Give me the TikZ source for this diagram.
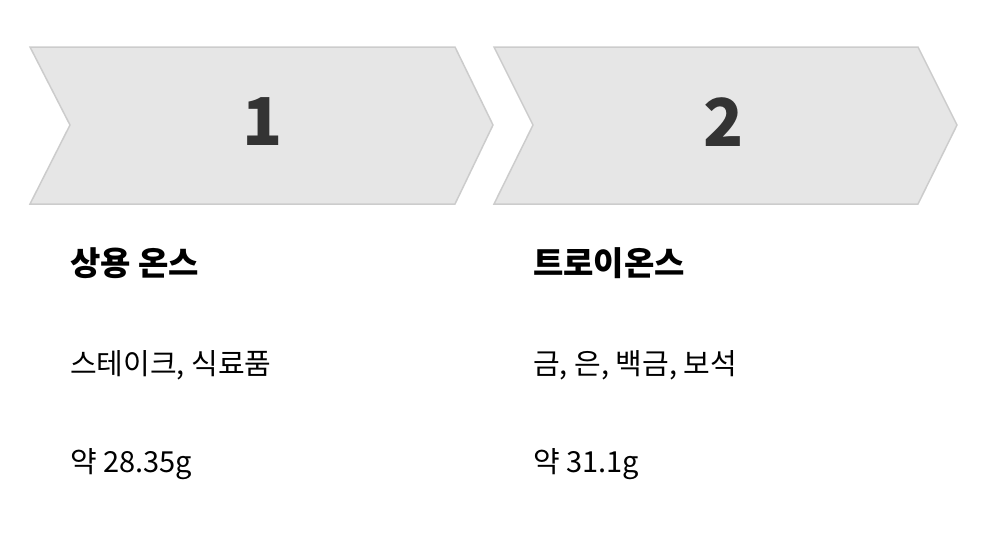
\documentclass[tikz,border=0pt]{standalone}
\usepackage{fontspec}
\setmainfont{Noto Sans CJK KR}
\begin{document}
\begin{tikzpicture}[x=1pt,y=-1pt]
\definecolor{cfill}{HTML}{E6E6E6}
\definecolor{cline}{HTML}{CCCCCC}
\definecolor{ctext}{HTML}{333333}
\tikzset{chev/.style={fill=cfill,draw=cline,line width=1.5pt,line join=miter},
 num/.style={font=\fontsize{66}{66}\selectfont\bfseries,text=ctext},
 title/.style={anchor=west,font=\fontsize{33}{33}\selectfont\bfseries,text=black,inner sep=0pt},
 body/.style={anchor=west,font=\fontsize{29}{29}\selectfont,text=black,inner sep=0pt}}
\useasboundingbox (0,0) rectangle (982,544);
\draw[chev] (30,47) -- (455,47) -- (493,125) -- (455,204) -- (30,204) -- (70,125) -- cycle;
\draw[chev] (494,47) -- (918,47) -- (957,125) -- (918,204) -- (494,204) -- (533,125) -- cycle;
\node[num] (n1) at (263,122) {1};
\node[num] (n2) at (724,122) {2};
\node[title] (t1) at (70,263) {상용 온스};
\node[title] (t2) at (533,263) {트로이온스};
\node[body] (b1) at (70,365) {스테이크, 식료품};
\node[body] (b2) at (533,365) {금, 은, 백금, 보석};
\node[body] (c1) at (70,464) {약 28.35g};
\node[body] (c2) at (533,464) {약 31.1g};
\end{tikzpicture}
\end{document}
